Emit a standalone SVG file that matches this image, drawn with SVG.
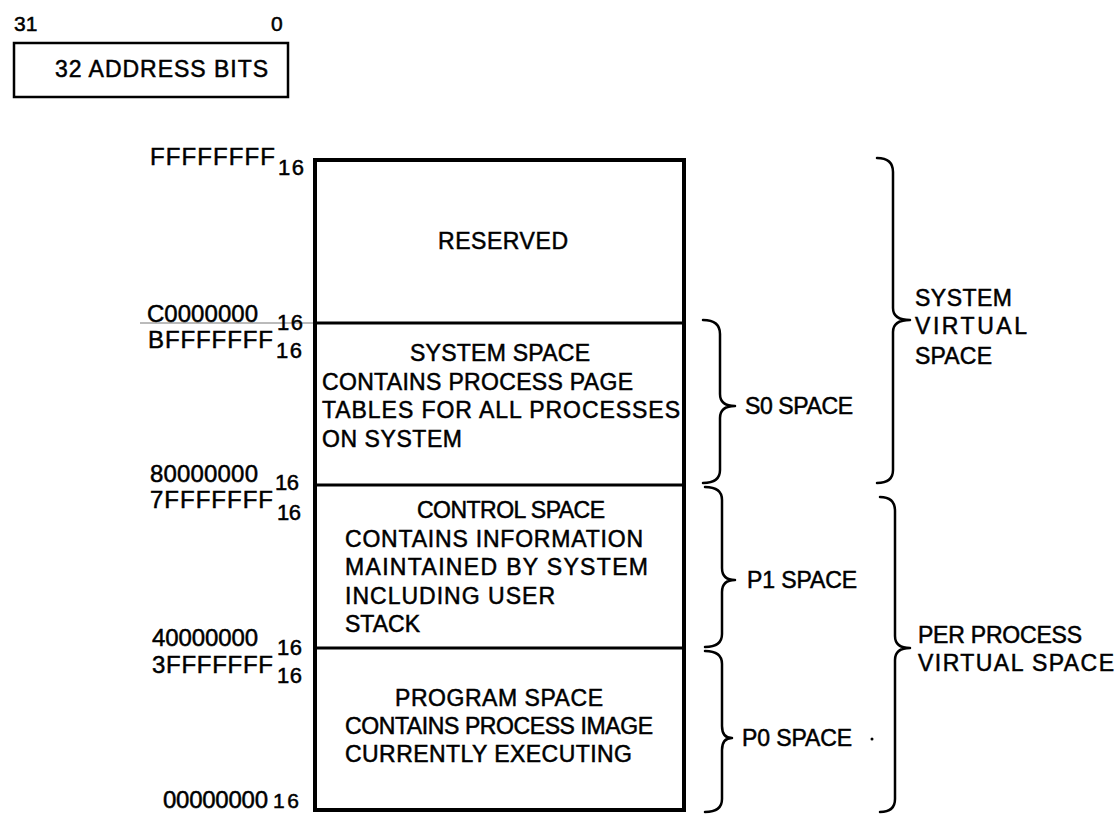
<svg xmlns="http://www.w3.org/2000/svg" width="1118" height="814" viewBox="0 0 1118 814">
<style>
text{font-family:"Liberation Sans",Arial,sans-serif;font-size:23px;fill:#000;stroke:#000;stroke-width:0.5}
.a{font-size:24px}
.s{font-size:22px}
.t{font-size:21px}
.box{fill:#fff;stroke:#000}
.div{stroke:#000;stroke-width:3}
.br{fill:none;stroke:#000;stroke-width:2.5;stroke-linecap:round;stroke-linejoin:round}
</style>
<rect width="1118" height="814" fill="#fff"/>
<g id="address-bits">
<text class="t" x="14" y="31">31</text>
<text class="t" x="271" y="31">0</text>
<rect class="box" x="14" y="43" width="274" height="54" stroke-width="2.5"/>
<text x="55" y="77" textLength="213" lengthAdjust="spacing">32 ADDRESS BITS</text>
</g>
<g id="address-labels">
<text class="a" x="150" y="165" textLength="125" lengthAdjust="spacing">FFFFFFFF</text>
<text class="s" x="278" y="175" textLength="26" lengthAdjust="spacing">16</text>
<line x1="140" y1="323" x2="315" y2="323" stroke="#777" stroke-width="1"/>
<text class="a" x="147" y="322" textLength="111" lengthAdjust="spacing">C0000000</text>
<text class="s" x="277" y="330" textLength="26" lengthAdjust="spacing">16</text>
<text class="a" x="148" y="348" textLength="125" lengthAdjust="spacing">BFFFFFFF</text>
<text class="s" x="276" y="358" textLength="26" lengthAdjust="spacing">16</text>
<text class="a" x="150" y="482" textLength="108" lengthAdjust="spacing">80000000</text>
<text class="s" x="275" y="490" textLength="24" lengthAdjust="spacing">16</text>
<text class="a" x="150" y="508" textLength="123" lengthAdjust="spacing">7FFFFFFF</text>
<text class="s" x="277" y="520" textLength="24" lengthAdjust="spacing">16</text>
<text class="a" x="152" y="646" textLength="106" lengthAdjust="spacing">40000000</text>
<text class="s" x="277" y="655" textLength="25" lengthAdjust="spacing">16</text>
<text class="a" x="152" y="673" textLength="121" lengthAdjust="spacing">3FFFFFFF</text>
<text class="s" x="277" y="683" textLength="25" lengthAdjust="spacing">16</text>
<text class="a" x="163" y="808" textLength="105" lengthAdjust="spacing">00000000</text>
<text class="t" x="273" y="808" textLength="26" lengthAdjust="spacing">16</text>
</g>
<g id="memory-map">
<rect class="box" x="315" y="160" width="369" height="650" stroke-width="4"/>
<line class="div" x1="315" y1="323" x2="684" y2="323"/>
<line class="div" x1="315" y1="485" x2="684" y2="485"/>
<line class="div" x1="315" y1="648" x2="684" y2="648"/>
</g>
<g id="reserved">
<text x="438" y="249" textLength="130" lengthAdjust="spacing">RESERVED</text>
</g>
<g id="system-space">
<text x="410" y="361" textLength="180" lengthAdjust="spacing">SYSTEM SPACE</text>
<text x="322" y="390" textLength="311" lengthAdjust="spacing">CONTAINS PROCESS PAGE</text>
<text x="322" y="418" textLength="358" lengthAdjust="spacing">TABLES FOR ALL PROCESSES</text>
<text x="322" y="447" textLength="140" lengthAdjust="spacing">ON SYSTEM</text>
</g>
<g id="control-space">
<text x="417" y="518" textLength="188" lengthAdjust="spacing">CONTROL SPACE</text>
<text x="345" y="547" textLength="298" lengthAdjust="spacing">CONTAINS INFORMATION</text>
<text x="345" y="575" textLength="303" lengthAdjust="spacing">MAINTAINED BY SYSTEM</text>
<text x="345" y="604" textLength="210" lengthAdjust="spacing">INCLUDING USER</text>
<text x="345" y="632" textLength="75" lengthAdjust="spacing">STACK</text>
</g>
<g id="program-space">
<text x="395" y="706" textLength="208" lengthAdjust="spacing">PROGRAM SPACE</text>
<text x="345" y="734" textLength="308" lengthAdjust="spacing">CONTAINS PROCESS IMAGE</text>
<text x="345" y="762" textLength="287" lengthAdjust="spacing">CURRENTLY EXECUTING</text>
</g>
<g id="connectors">
<path class="br" d="M703,320 Q720,320 720,334 L720,394 Q720,406 735,406 Q720,406 720,418 L720,470 Q720,483 703,483"/>
<path class="br" d="M705,487 Q722,487 722,500 L722,568 Q722,580 735,580 Q722,580 722,592 L722,634 Q722,647 705,647"/>
<path class="br" d="M705,651 Q722,651 722,664 L722,726 Q722,738 732,738 Q722,738 722,750 L722,799 Q722,812 705,812"/>
<path class="br" d="M877,158 Q893,158 893,172 L893,308 Q893,320 910,320 Q893,320 893,332 L893,470 Q893,483 877,483"/>
<path class="br" d="M880,497 Q895,497 895,511 L895,636 Q895,648 910,648 Q895,648 895,660 L895,799 Q895,812 880,812"/>
</g>
<g id="s0-label"><text x="745" y="414" textLength="108" lengthAdjust="spacing">S0 SPACE</text></g>
<g id="p1-label"><text x="747" y="588" textLength="110" lengthAdjust="spacing">P1 SPACE</text></g>
<g id="p0-label"><text x="742" y="746" textLength="110" lengthAdjust="spacing">P0 SPACE</text><circle cx="872" cy="739" r="1.5" fill="#000"/></g>
<g id="system-virtual-label">
<text x="915" y="306" textLength="97" lengthAdjust="spacing">SYSTEM</text>
<text x="915" y="334" textLength="112" lengthAdjust="spacing">VIRTUAL</text>
<text x="915" y="364" textLength="77" lengthAdjust="spacing">SPACE</text>
</g>
<g id="per-process-label">
<text x="918" y="643" textLength="164" lengthAdjust="spacing">PER PROCESS</text>
<text x="918" y="671" textLength="196" lengthAdjust="spacing">VIRTUAL SPACE</text>
</g>
</svg>
